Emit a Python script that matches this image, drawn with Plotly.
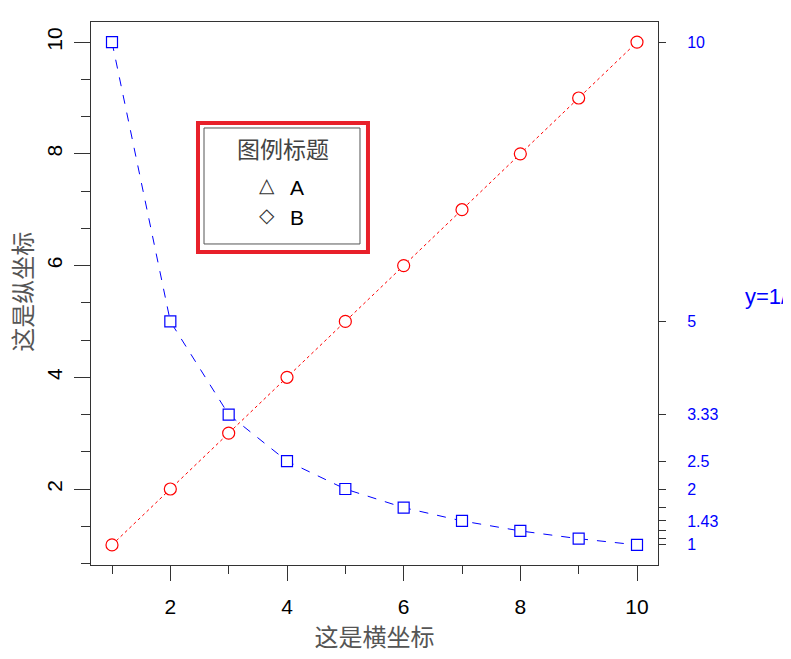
import plotly.graph_objects as go

# data
x_vals = [1, 2, 3, 4, 5, 6, 7, 8, 9, 10]
red_y = [1, 2, 3, 4, 5, 6, 7, 8, 9, 10]
blue_y = [10, 5, 3.333, 2.5, 2, 1.667, 1.429, 1.25, 1.111, 1]
right_labels = ["10", "5", "3.33", "2.5", "2", "", "1.43", "", "", "1"]

x_major = [2, 4, 6, 8, 10]
x_minor = [1, 3, 5, 7, 9]
y_major = [2, 4, 6, 8, 10]
y_minor = [2 / 3 * i for i in range(1, 16)]

legend_title = "图例标题"
legend_names = ["A", "B"]
legend_glyphs = ["△", "◇"]

TICK = "#333333"
CJK = "Noto Sans CJK SC"
LAT = "Liberation Sans, Arial"

fig = go.Figure()

fig.add_trace(go.Scatter(
    x=x_vals, y=red_y, mode="lines+markers",
    line=dict(color="red", width=1, dash="dot"),
    marker=dict(symbol="circle", size=12, color="white",
                line=dict(color="red", width=1.2)),
    showlegend=False,
))
fig.add_trace(go.Scatter(
    x=x_vals, y=blue_y, mode="lines+markers", yaxis="y2",
    line=dict(color="blue", width=1, dash="dash"),
    marker=dict(symbol="square", size=11, color="white",
                line=dict(color="blue", width=1.2)),
    showlegend=False,
))

rng = [0.64, 10.36]

# the page body adds an 8px offset, so margins are trimmed by 8 on left/top
fig.update_layout(
    width=791, height=659,
    margin=dict(l=83, r=141, t=14, b=102),
    plot_bgcolor="white", paper_bgcolor="white",
    xaxis=dict(
        range=rng, showgrid=False, zeroline=False, automargin=False,
        showline=True, linecolor=TICK, linewidth=1, mirror=True,
        tickmode="array", tickvals=x_major, ticks="outside",
        ticklen=15, tickwidth=1, tickcolor=TICK,
        minor=dict(tickmode="array", tickvals=x_minor, ticks="outside",
                   ticklen=8, tickwidth=1, tickcolor=TICK),
        tickfont=dict(family=LAT, size=21, color="black"),
        ticklabelstandoff=8,
        title=dict(text="这是横坐标", font=dict(family=CJK, size=24, color="#555555"),
                   standoff=4),
    ),
    yaxis=dict(
        range=rng, showgrid=False, zeroline=False, automargin=False,
        showline=True, linecolor=TICK, linewidth=1, mirror=True,
        tickmode="array", tickvals=y_major, ticks="outside",
        ticklen=16, tickwidth=1, tickcolor=TICK,
        minor=dict(tickmode="array", tickvals=y_minor, ticks="outside",
                   ticklen=9, tickwidth=1, tickcolor=TICK),
        tickangle=-90,
        tickfont=dict(family=LAT, size=21, color="black"),
        ticklabelstandoff=4,
    ),
    yaxis2=dict(
        range=rng, overlaying="y", side="right", showgrid=False, zeroline=False,
        automargin=False,
        showline=True, linecolor=TICK, linewidth=1,
        tickmode="array", tickvals=blue_y, ticktext=right_labels,
        ticks="outside", ticklen=7, tickwidth=1, tickcolor=TICK,
        tickfont=dict(family=LAT, size=16, color="blue"),
        ticklabelstandoff=18,
    ),
)

# left axis title
fig.add_annotation(text="这是纵坐标", xref="paper", yref="paper", x=-0.122, y=0.503,
                   xanchor="center", yanchor="middle", textangle=-90, showarrow=False,
                   font=dict(family=CJK, size=24, color="#555555"))

# right axis title, cut off by the page edge as in the original
fig.add_annotation(text="y=1/x", xref="paper", yref="paper", x=1.150, y=0.494,
                   xanchor="left", yanchor="middle", showarrow=False,
                   font=dict(family=LAT, size=22, color="blue"))

# legend box drawn by hand
fig.add_shape(type="rect", xref="paper", yref="paper",
              x0=0.1887, x1=0.4885, y0=0.5764, y1=0.8140,
              line=dict(color="#e8202a", width=4), fillcolor="white")
fig.add_shape(type="rect", xref="paper", yref="paper",
              x0=0.1993, x1=0.4744, y0=0.5912, y1=0.8048,
              line=dict(color="#555555", width=1))
fig.add_annotation(text=legend_title, xref="paper", yref="paper", x=0.3386, y=0.7680,
                   showarrow=False, xanchor="center", yanchor="middle",
                   font=dict(family=CJK, size=23, color="#444444"))
for i, (g, n) in enumerate(zip(legend_glyphs, legend_names)):
    yy = 0.6990 - i * 0.0545
    fig.add_annotation(text=g, xref="paper", yref="paper", x=0.3104, y=yy,
                       showarrow=False, xanchor="center", yanchor="middle",
                       font=dict(family="DejaVu Sans", size=20, color="#333333"))
    fig.add_annotation(text=n, xref="paper", yref="paper", x=0.348, y=yy - 0.004,
                       showarrow=False, xanchor="left", yanchor="middle",
                       font=dict(family=LAT, size=21, color="black"))

fig.write_html("out.html")
